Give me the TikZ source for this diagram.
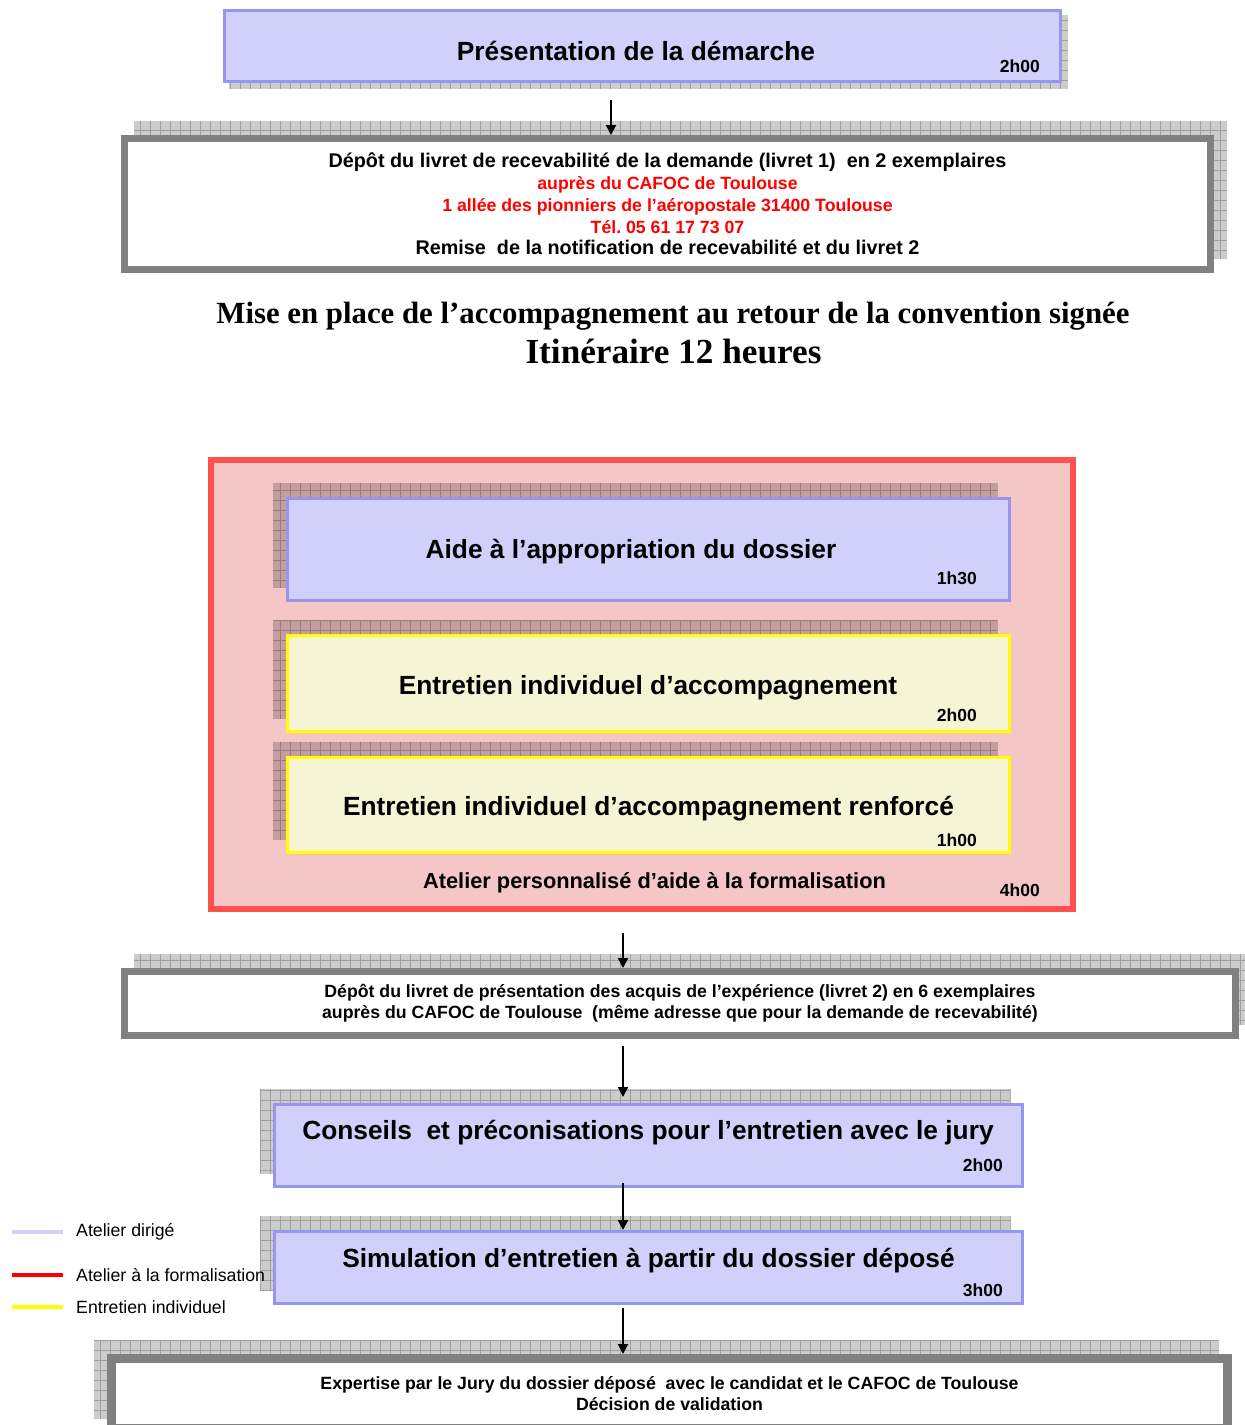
\documentclass[tikz,border=0pt]{standalone}
\usepackage{fontspec}
\setmainfont{Liberation Sans}
\newfontfamily\titrefont{Liberation Serif}
\usetikzlibrary{arrows.meta}
\frenchspacing

\definecolor{lavande}{RGB}{208,208,250}
\definecolor{bordlav}{RGB}{150,150,236}
\definecolor{creme}{RGB}{245,245,213}
\definecolor{jaune}{RGB}{255,255,0}
\definecolor{rouge}{RGB}{255,80,80}
\definecolor{rose}{RGB}{245,198,198}
\definecolor{gris}{RGB}{128,128,128}

\pgfdeclarelayer{fond}
\pgfdeclarelayer{ombres}
\pgfsetlayers{fond,ombres,main}

\tikzset{
  dirige/.style={draw=bordlav,fill=lavande,line width=3pt,rectangle},
  entretien/.style={draw=jaune,fill=creme,line width=3pt,rectangle},
  formalisation/.style={draw=rouge,fill=rose,line width=6pt,rectangle},
  depot/.style={draw=gris,fill=white,line width=7pt,rectangle,align=center},
  ombre/.style={
    fill=black,fill opacity=.2,
    path picture={\draw[black,draw opacity=.22,line width=.8pt,step=10pt]
      (path picture bounding box.south west) grid (path picture bounding box.north east);}
  },
  titre/.style={font=\bfseries\fontsize{26.3}{30}\selectfont,anchor=base},
  duree/.style={font=\bfseries\fontsize{17.5}{20}\selectfont,anchor=base east,inner sep=0pt},
  fleche/.style={-{Triangle[width=10pt,length=10pt]},line width=2pt},
  legende/.style={font=\fontsize{17.7}{20}\selectfont,anchor=base west,inner sep=0pt},
  trait/.style={line width=4pt},
}
\newcommand{\rouge}[1]{{\color{red}\fontsize{17.7}{21.75}\selectfont #1}}

\begin{document}
\begin{tikzpicture}[x=1pt,y=-1pt]
\useasboundingbox (0,0) rectangle (1245,1425);

% presentation
\node[dirige,minimum width=836.5pt,minimum height=70.8pt] (pres) at (642.25,45.9) {};
\node[titre] (pres-txt) at (636,60) {Présentation de la démarche};
\node[duree] (pres-h) at (1040,72) {2h00};

\node[depot,minimum width=1086pt,minimum height=131pt,
      font=\bfseries\fontsize{19.8}{21.75}\selectfont] (depot1) at (667.5,204)
  {Dépôt du livret de recevabilité de la demande (livret 1)\ \ en 2 exemplaires\\
   \rouge{auprès du CAFOC de Toulouse}\\
   \rouge{1 allée des pionniers de l’aéropostale 31400 Toulouse}\\
   \rouge{Tél. 05 61 17 73 07}\\
   Remise\ \ de la notification de recevabilité et du livret 2};

\node[font=\titrefont\bfseries\fontsize{30.8}{34}\selectfont,anchor=base] (mise) at (673,323)
  {Mise en place de l’accompagnement au retour de la convention signée};
\node[font=\titrefont\bfseries\fontsize{35.2}{38}\selectfont,anchor=base] (itin) at (673.5,363.6)
  {Itinéraire 12 heures};

% atelier de formalisation
\begin{pgfonlayer}{fond}
\node[formalisation,minimum width=862pt,minimum height=449pt] (atelier) at (642,684.5) {};
\end{pgfonlayer}

\node[dirige,minimum width=722pt,minimum height=102pt] (aide) at (648,549) {};
\node[titre] (aide-txt) at (631,558) {Aide à l’appropriation du dossier};
\node[duree] (aide-h) at (977,584) {1h30};

\node[entretien,minimum width=722pt,minimum height=96pt] (ent) at (648,683) {};
\node[titre] (ent-txt) at (648,694) {Entretien individuel d’accompagnement};
\node[duree] (ent-h) at (977,721) {2h00};

\node[entretien,minimum width=722pt,minimum height=95pt] (entr) at (648,804.5) {};
\node[titre] (entr-txt) at (648.5,815) {Entretien individuel d’accompagnement renforcé};
\node[duree] (entr-h) at (977,846) {1h00};

\node[titre,font=\bfseries\fontsize{21.8}{24}\selectfont] (atelier-txt) at (654.5,888)
  {Atelier personnalisé d’aide à la formalisation};
\node[duree] (atelier-h) at (1040,896) {4h00};

% livret 2
\node[depot,minimum width=1111pt,minimum height=64pt,
      font=\bfseries\fontsize{17.7}{21}\selectfont] (depot2) at (680,1003.5)
  {Dépôt du livret de présentation des acquis de l’expérience (livret 2) en 6 exemplaires\\
   auprès du CAFOC de Toulouse\ \ (même adresse que pour la demande de recevabilité)};

\node[dirige,minimum width=748pt,minimum height=82pt] (conseils) at (648,1145.5) {};
\node[titre] (conseils-txt) at (648,1139) {Conseils\ \ et préconisations pour l’entretien avec le jury};
\node[duree] (conseils-h) at (1003,1171) {2h00};

\node[dirige,minimum width=748pt,minimum height=71.5pt] (simul) at (648,1267.25) {};
\node[titre] (simul-txt) at (648.5,1267) {Simulation d’entretien à partir du dossier déposé};
\node[duree] (simul-h) at (1003,1296) {3h00};

\node[depot,line width=9pt,minimum width=1116pt,minimum height=69.5pt,
      font=\bfseries\fontsize{17.7}{21}\selectfont] (jury) at (669.5,1393.25)
  {Expertise par le Jury du dossier déposé\ \ avec le candidat et le CAFOC de Toulouse\\
   Décision de validation};

% ombres
\begin{pgfonlayer}{ombres}
\path[ombre] ([shift={(6,6)}]pres.south west) rectangle ([shift={(6,6)}]pres.north east);
\foreach \n in {depot1,depot2}
  \path[ombre] ([shift={(13,-14)}]\n.south west) rectangle ([shift={(13,-14)}]\n.north east);
\foreach \n in {aide,ent,entr,conseils,simul,jury}
  \path[ombre] ([shift={(-13,-14)}]\n.south west) rectangle ([shift={(-13,-14)}]\n.north east);
\end{pgfonlayer}

% fleches
\coordinate (f1) at (611,100);
\coordinate (f2) at (623,933);
\coordinate (f3) at (623,1046);
\coordinate (f4) at (623,1183);
\coordinate (f5) at (623,1308);
\draw[fleche] (f1) -- (f1 |- depot1.north);
\draw[fleche] (f2) -- (f2 |- depot2.north);
\draw[fleche,shorten >=6pt] (f3) -- (f3 |- conseils.north);
\draw[fleche] (f4) -- (f4 |- simul.north);
\draw[fleche] (f5) -- (f5 |- jury.north);

% legende
\node[legende] (leg-dirige) at (76,1236) {Atelier dirigé};
\node[legende] (leg-formal) at (76,1281) {Atelier à la formalisation};
\node[legende] (leg-entretien) at (76,1313) {Entretien individuel};
\draw[trait,lavande] (12,1232) -- (63,1232);
\draw[trait,red] (12,1274.5) -- (63,1274.5);
\draw[trait,jaune] (12,1307) -- (63,1307);

\end{tikzpicture}
\end{document}
